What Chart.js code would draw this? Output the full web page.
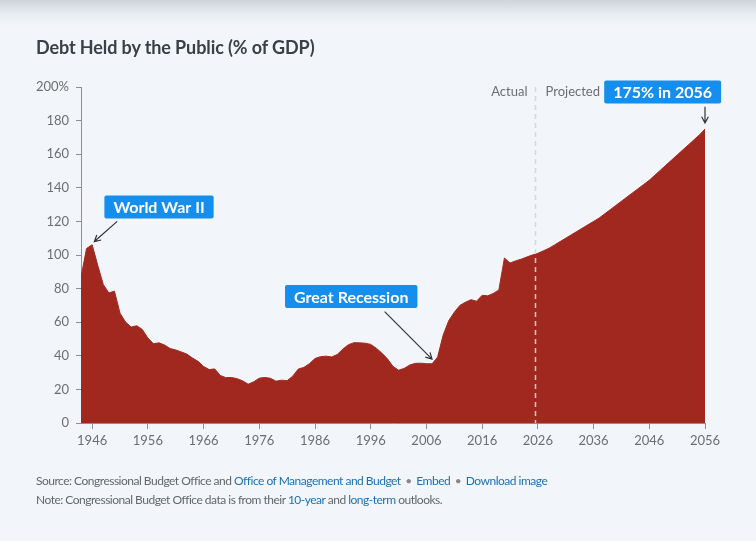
<!DOCTYPE html>
<html>
<head>
<meta charset="utf-8">
<script src="https://cdn.jsdelivr.net/npm/chart.js@4.4.1/dist/chart.umd.min.js"></script>
<style>
  html, body { margin: 0; padding: 0; }
  body {
    width: 756px; height: 541px; overflow: hidden; position: relative;
    font-family: Lato, "Noto Sans", sans-serif;
    background: linear-gradient(#cfd4da 0px, #e8edf2 14px, #f2f6fa 26px, #f2f6fa 100%);
  }
  #wrap { position: absolute; left: 0; top: 0; width: 756px; height: 541px; }
  #title {
    position: absolute; left: 36px; top: 37px; line-height: 20px;
    font-size: 18px; font-weight: 700; color: #3b4046; letter-spacing: -0.1px;
  }
  .foot {
    position: absolute; left: 36px; font-size: 12px; line-height: 16px;
    color: #62676c; white-space: nowrap; letter-spacing: -0.5px;
  }
  .foot a { color: #1f6fb2; text-decoration: none; }
  .dot { color: #888; padding: 0 2px; }
</style>
</head>
<body>
<div id="wrap"><canvas id="debtChart"></canvas></div>
<div id="title">Debt Held by the Public (% of GDP)</div>
<div class="foot" style="top:473px">Source: Congressional Budget Office and <a>Office of Management and Budget</a> <span class="dot">&bull;</span> <a>Embed</a> <span class="dot">&bull;</span> <a>Download image</a></div>
<div class="foot" style="top:492px">Note: Congressional Budget Office data is from their <a>10-year</a> and <a>long-term</a> outlooks.</div>
<script>
  // fiscal years, actual then projected
  const years = [
    1944, 1945, 1946, 1947, 1948, 1949, 1950, 1951, 1952, 1953, 1954, 1955, 1956, 1957, 1958, 1959,
    1960, 1961, 1962, 1963, 1964, 1965, 1966, 1967, 1968, 1969, 1970, 1971, 1972, 1973, 1974, 1975,
    1976, 1977, 1978, 1979, 1980, 1981, 1982, 1983, 1984, 1985, 1986, 1987, 1988, 1989, 1990, 1991,
    1992, 1993, 1994, 1995, 1996, 1997, 1998, 1999, 2000, 2001, 2002, 2003, 2004, 2005, 2006, 2007,
    2008, 2009, 2010, 2011, 2012, 2013, 2014, 2015, 2016, 2017, 2018, 2019, 2020, 2021, 2022, 2023,
    2024, 2025, 2026, 2027, 2028, 2029, 2030, 2031, 2032, 2033, 2034, 2035, 2036, 2037, 2038, 2039,
    2040, 2041, 2042, 2043, 2044, 2045, 2046, 2047, 2048, 2049, 2050, 2051, 2052, 2053, 2054, 2055,
    2056
  ];

  // 1944 - 2025
  const actualDebt = [
    86.9, 103.9, 106.1, 93.9, 82.4, 77.4, 78.5, 65.4, 60.1, 57.1, 57.9, 55.7, 50.6, 47.2, 47.7, 46.4,
    44.3, 43.5, 42.3, 41.0, 38.7, 36.7, 33.7, 31.8, 32.2, 28.3, 27.0, 27.1, 26.4, 25.1, 23.1, 24.5,
    26.7, 27.1, 26.6, 24.9, 25.5, 25.2, 27.9, 32.1, 33.1, 35.3, 38.4, 39.5, 39.8, 39.3, 40.8, 44.0,
    46.6, 47.8, 47.7, 47.5, 46.8, 44.5, 41.6, 38.2, 33.7, 31.4, 32.5, 34.5, 35.5, 35.6, 35.3, 35.2,
    39.2, 52.3, 60.9, 65.9, 70.0, 71.9, 73.4, 72.5, 76.0, 75.7, 77.1, 79.2, 98.2, 95.2, 96.5, 97.5,
    98.8, 100.0
  ];

  // 2026 - 2056
  const projectedDebt = [
    101.0, 102.5, 104.0, 106.0, 108.0, 110.0, 112.0, 114.0, 116.0, 118.0, 120.0, 122.0, 124.5, 127.0,
    129.5, 132.0, 134.5, 137.0, 139.5, 142.0, 144.5, 147.5, 150.5, 153.5, 156.5, 159.5, 162.5, 165.5,
    168.5, 171.5, 175.0
  ];

  const tickYears = [1946, 1956, 1966, 1976, 1986, 1996, 2006, 2016, 2026, 2036, 2046, 2056];
  const tickPercents = [0, 20, 40, 60, 80, 100, 120, 140, 160, 180, 200];
  const lastActualYear = 2025;

  const debt = actualDebt.concat(projectedDebt);
  const points = years.map((yr, i) => ({ x: yr, y: debt[i] }));

  // annotation boxes: centre of box, arrow start and arrow tip in data units
  const callouts = [
    { text: 'World War II', box: [1958, 128.6], from: [1950.5, 120], to: [1946.4, 108] },
    { text: 'Great Recession', box: [1992.5, 75.3], from: [1998.5, 66.3], to: [2007, 38] },
    { text: '175% in 2056', box: [2048.4, 197], from: [2056, 188.3], to: [2056, 178.6] }
  ];

  function arrow(ctx, x1, y1, x2, y2) {
    const a = Math.atan2(y2 - y1, x2 - x1);
    const h = 7;
    ctx.beginPath();
    ctx.moveTo(x1, y1);
    ctx.lineTo(x2, y2);
    ctx.moveTo(x2 - h * Math.cos(a - 0.5), y2 - h * Math.sin(a - 0.5));
    ctx.lineTo(x2, y2);
    ctx.lineTo(x2 - h * Math.cos(a + 0.5), y2 - h * Math.sin(a + 0.5));
    ctx.stroke();
  }

  const notes = {
    id: 'notes',
    afterDraw(chart) {
      const { ctx, chartArea, scales: { x, y } } = chart;
      ctx.save();

      // actual / projected split, halfway into the first projected year
      const dx = Math.round(x.getPixelForValue(lastActualYear + 0.5)) + 0.5;
      ctx.strokeStyle = 'rgba(210,214,218,0.95)';
      ctx.lineWidth = 1.5;
      ctx.setLineDash([5, 4]);
      ctx.beginPath();
      ctx.moveTo(dx, chartArea.top);
      ctx.lineTo(dx, chartArea.bottom);
      ctx.stroke();
      ctx.setLineDash([]);

      ctx.font = '13px Lato';
      ctx.fillStyle = '#6b6f73';
      ctx.textBaseline = 'middle';
      const ly = y.getPixelForValue(197);
      ctx.textAlign = 'right';
      ctx.fillText('Actual', dx - 8, ly);
      ctx.textAlign = 'left';
      ctx.fillText('Projected', dx + 10, ly);

      // callout boxes
      ctx.font = 'bold 16px Lato';
      callouts.forEach(c => {
        const cx = x.getPixelForValue(c.box[0]);
        const cy = y.getPixelForValue(c.box[1]);
        const w = ctx.measureText(c.text).width + 18;
        const h = 23;
        ctx.fillStyle = '#158eee';
        ctx.beginPath();
        ctx.roundRect(cx - w / 2, cy - h / 2, w, h, 2);
        ctx.fill();
        ctx.fillStyle = '#ffffff';
        ctx.textAlign = 'center';
        ctx.fillText(c.text, cx, cy + 1);

        ctx.strokeStyle = '#2f3439';
        ctx.lineWidth = 1.2;
        arrow(ctx,
          x.getPixelForValue(c.from[0]), y.getPixelForValue(c.from[1]),
          x.getPixelForValue(c.to[0]), y.getPixelForValue(c.to[1]));
      });
      ctx.restore();
    }
  };

  const axisGrey = '#8a8f94';
  const ctx = document.getElementById('debtChart').getContext('2d');

  const debtChart = new Chart(ctx, {
    type: 'line',
    data: {
      datasets: [
        {
          label: 'Debt held by the public',
          data: points,
          backgroundColor: '#a1281f',
          borderColor: '#a1281f',
          borderWidth: 1,
          fill: 'origin',
          pointRadius: 0,
          tension: 0
        }
      ]
    },
    options: {
      responsive: true,
      maintainAspectRatio: false,
      animation: false,
      layout: {
        padding: { left: 0, right: 51, top: 87, bottom: 88 }
      },
      plugins: {
        legend: { display: false },
        tooltip: { enabled: false }
      },
      scales: {
        x: {
          type: 'linear',
          min: 1944,
          max: 2056,
          z: 1,
          afterBuildTicks: (scale) => { scale.ticks = tickYears.map(v => ({ value: v })); },
          afterFit: (scale) => { scale.height = 30; },
          border: { display: true, color: axisGrey, width: 1 },
          grid: { drawOnChartArea: false, drawTicks: true, tickLength: 6, color: axisGrey },
          ticks: {
            color: '#6b6f73',
            font: { family: 'Lato', size: 13 },
            padding: 4,
            maxRotation: 0,
            autoSkip: false,
            callback: (value) => String(value)
          }
        },
        y: {
          min: 0,
          max: 200,
          z: 1,
          afterBuildTicks: (scale) => { scale.ticks = tickPercents.map(v => ({ value: v })); },
          afterFit: (scale) => { scale.width = 81; },
          border: { display: true, color: axisGrey, width: 1 },
          grid: { drawOnChartArea: false, drawTicks: true, tickLength: 5, color: axisGrey },
          ticks: {
            color: '#6b6f73',
            font: { family: 'Lato', size: 13 },
            padding: 7,
            autoSkip: false,
            callback: (value) => value === 200 ? '200%' : String(value)
          }
        }
      }
    },
    plugins: [notes]
  });
</script>
</body>
</html>
